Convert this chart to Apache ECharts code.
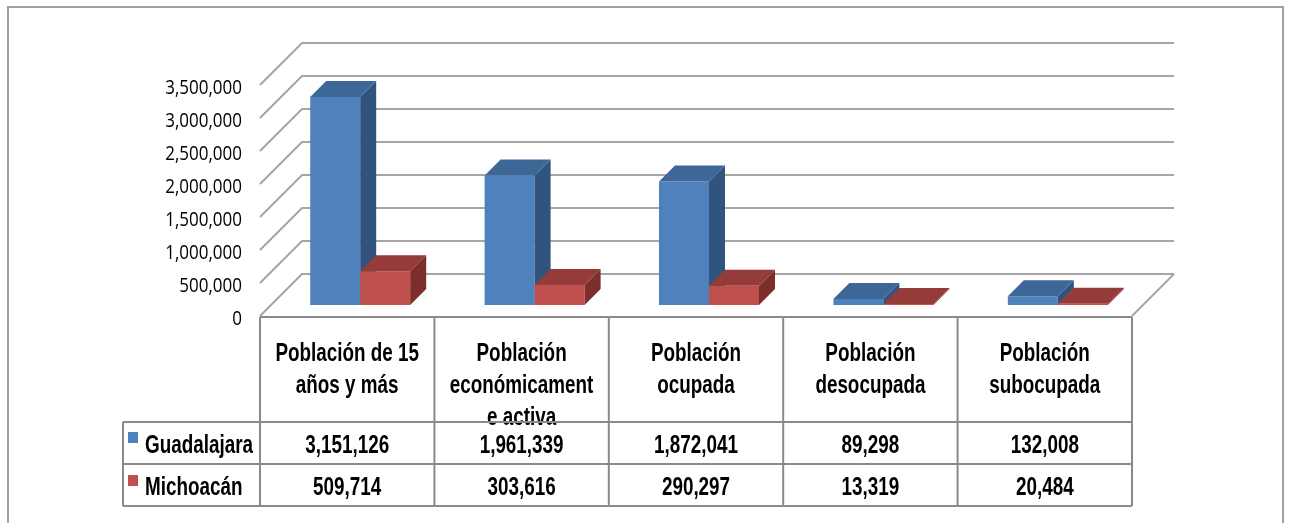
<!DOCTYPE html>
<html><head><meta charset="utf-8">
<script src="https://cdn.jsdelivr.net/npm/echarts@6/dist/echarts.min.js"></script>
<style>html,body{margin:0;padding:0;background:#fff}#c{width:1289px;height:523px}</style>
</head><body><div id="c"></div>
<script>
const categories = ['Población de 15 años y más','Población económicamente activa','Población ocupada','Población desocupada','Población subocupada'];
const headerLines = [['Población de 15','años y más'],['Población','económicament','e activa'],['Población','ocupada'],['Población','desocupada'],['Población','subocupada']];
const seriesNames = ['Guadalajara','Michoacán'];
const guadalajara = [3151126,1961339,1872041,89298,132008];
const michoacan = [509714,303616,290297,13319,20484];
const yTicks = [0,500000,1000000,1500000,2000000,2500000,3000000,3500000];
const yTickLabels = ['0','500,000','1,000,000','1,500,000','2,000,000','2,500,000','3,000,000','3,500,000'];

const BLUE = ['#4F81BD','#3D6797','#31547E'];
const RED = ['#C0504D','#953C3A','#7B2E2C'];
const GRID_C = '#A6A6A6';
const TABLE_C = '#8A8A8A';
const FONT_T = '"Liberation Sans","Arimo",Arial,sans-serif';
const FONT_Y = '"Open Sans","Noto Sans",sans-serif';
const FRONT = 11, BACK = 31, DEPTH = 16;
const TAB_TOP = 317, ROW1 = 422, ROW2 = 464, TAB_BOT = 506, LEG_L = 123;
const SX = 0.82, SY = 1.15;

const chart = echarts.init(document.getElementById('c'));

function fmt(v){ return v.toLocaleString('en-US'); }

function txt(x, y, s, opts){
  return {type:'text', x:x, y:y, scaleX: SX, scaleY: SY, style:Object.assign({text:s, x:0, y:0, fill:'#000', font:'bold 23px '+FONT_T, textAlign:'center', textVerticalAlign:'middle'}, opts||{})};
}

function barRender(idx, colors){
  return function(params, api){
    const cat = api.value(0), v = api.value(1);
    const c = api.coord([cat, 0]);
    const yt = api.coord([cat, v])[1];
    const band = api.size([1, 0])[0];
    const w = band * 0.2867;
    const off = band * 0.0115;
    const x0 = idx === 0 ? c[0] + off - w : c[0] + off;
    const x1 = x0 + w, yb = c[1], d = DEPTH;
    return {type:'group', children:[
      {type:'polygon', shape:{points:[[x0,yb],[x1,yb],[x1,yt],[x0,yt]]}, style:{fill:colors[0]}},
      {type:'polygon', shape:{points:[[x1,yb],[x1+d,yb-d],[x1+d,yt-d],[x1,yt]]}, style:{fill:colors[2]}},
      {type:'polygon', shape:{points:[[x0,yt],[x1,yt],[x1+d,yt-d],[x0+d,yt-d]]}, style:{fill:colors[1]}}
    ]};
  };
}

function wallRender(params, api){
  const i = params.dataIndex;
  const y = api.coord([0, api.value(1)])[1];
  const xL = params.coordSys.x, xR = xL + params.coordSys.width;
  const ch = [
    {type:'polyline', shape:{points:[[xL-FRONT, y+FRONT],[xL+BACK, y-BACK],[xR+BACK, y-BACK]]}, style:{stroke:GRID_C, lineWidth:2, fill:null}},
    {type:'text', x:xL-29, y:y+FRONT+4, scaleY:1.12, style:{text:yTickLabels[i], x:0, y:0, fill:'#000', font:'17px '+FONT_Y, textAlign:'right', textVerticalAlign:'middle'}}
  ];
  if (i === 0) {
    ch.push({type:'line', shape:{x1:xR-FRONT, y1:y+FRONT, x2:xR+BACK, y2:y-BACK}, style:{stroke:GRID_C, lineWidth:2}});
  }
  return {type:'group', children:ch};
}

function tableRender(params, api){
  const i = params.dataIndex;
  const c = api.coord([i, 0]);
  const band = api.size([1, 0])[0];
  const cx = c[0] - FRONT;
  const l = cx - band/2, r = cx + band/2;
  const ch = [];
  const lines = headerLines[i];
  const ly = [354, 386, 418];
  lines.forEach((s, k) => ch.push(txt(cx, ly[k], s)));
  ch.push(txt(cx, 446, fmt(api.value(1))));
  ch.push(txt(cx, 488, fmt(api.value(2))));
  const L = (x1,y1,x2,y2) => ({type:'line', shape:{x1,y1,x2,y2}, style:{stroke:TABLE_C, lineWidth:2}});
  ch.push(L(l, TAB_TOP, r, TAB_TOP), L(l, ROW1, r, ROW1), L(l, ROW2, r, ROW2), L(l, TAB_BOT, r, TAB_BOT), L(r, TAB_TOP, r, TAB_BOT));
  if (i === 0) {
    ch.push(L(l, TAB_TOP, l, TAB_BOT), L(LEG_L, ROW1, l, ROW1), L(LEG_L, ROW2, l, ROW2), L(LEG_L, TAB_BOT, l, TAB_BOT), L(LEG_L, ROW1, LEG_L, TAB_BOT));
    ch.push({type:'rect', shape:{x:128, y:432, width:10, height:11}, style:{fill:BLUE[0]}});
    ch.push({type:'rect', shape:{x:128, y:475, width:10, height:11}, style:{fill:RED[0]}});
    ch.push(txt(145, 446, seriesNames[0], {textAlign:'left'}));
    ch.push(txt(145, 488, seriesNames[1], {textAlign:'left'}));
  }
  return {type:'group', children:ch};
}

chart.setOption({
  animation:false,
  backgroundColor:'#fff',
  graphic:[{type:'rect', shape:{x:8, y:7, width:1275, height:540}, style:{fill:null, stroke:'#A0A0A0', lineWidth:2}, z:-1}],
  grid:{left:271, right:146, top:74, bottom:218},
  xAxis:{type:'category', data:categories, show:false, boundaryGap:true},
  yAxis:{type:'value', min:0, max:3500000, interval:500000, show:false},
  series:[
    {type:'custom', name:'walls', clip:false, renderItem:wallRender, data:yTicks.map(v=>[0, v]), encode:{x:0, y:1}, z:1},
    {type:'custom', name:seriesNames[0], clip:false, renderItem:barRender(0, BLUE), data:guadalajara.map((v,i)=>[i, v]), encode:{x:0, y:1}, z:2},
    {type:'custom', name:seriesNames[1], clip:false, renderItem:barRender(1, RED), data:michoacan.map((v,i)=>[i, v]), encode:{x:0, y:1}, z:3},
    {type:'custom', name:'table', clip:false, renderItem:tableRender, data:guadalajara.map((v,i)=>[i, v, michoacan[i]]), encode:{x:0, y:1}, z:4}
  ]
});
</script></body></html>
